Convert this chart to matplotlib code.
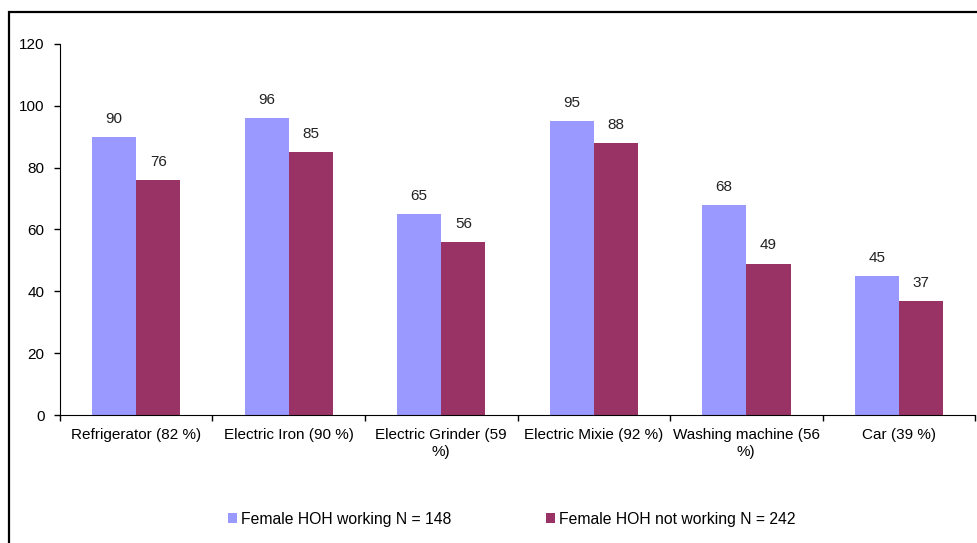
import matplotlib
import matplotlib.pyplot as plt
import numpy as np
from matplotlib.patches import Rectangle

matplotlib.use('Agg')

categories = ['Refrigerator (82 %)', 'Electric Iron (90 %)', 'Electric Grinder (59\n%)',
              'Electric Mixie (92 %)', 'Washing machine (56\n%)', 'Car (39 %)']
working = [90, 96, 65, 95, 68, 45]
not_working = [76, 85, 56, 88, 49, 37]
series_names = ['Female HOH working N = 148', 'Female HOH not working N = 242']

plt.rcParams['font.family'] = ['Liberation Sans', 'DejaVu Sans']
plt.rcParams['font.size'] = 11

fig = plt.figure(figsize=(9.77, 5.43), dpi=100)
ax = fig.add_axes([0.0614, 0.2357, 0.9366, 0.6833])

x = np.arange(len(categories))
width = 0.29

b1 = ax.bar(x - width / 2, working, width, color='#9999FF', label=series_names[0])
b2 = ax.bar(x + width / 2, not_working, width, color='#993366', label=series_names[1])

# value labels above each bar
for bars in (b1, b2):
    for rect in bars:
        h = rect.get_height()
        ax.annotate(f'{h:g}', (rect.get_x() + rect.get_width() / 2, h),
                    xytext=(0, 8), textcoords='offset points',
                    ha='center', va='bottom', fontsize=11, color='#222222')

ax.set_xlim(-0.5, len(categories) - 0.5)
ax.set_ylim(0, 120)
ax.set_yticks(range(0, 121, 20))
ax.set_xticks(x, categories)
ax.set_xticks(np.arange(-0.5, len(categories)), minor=True)
ax.tick_params(axis='x', which='major', length=0, pad=9)
ax.tick_params(axis='x', which='minor', length=4, width=1, direction='out')
ax.tick_params(axis='y', length=4, width=1, pad=7)
for lab in ax.get_xticklabels():
    lab.set_linespacing(1.35)

ax.spines['top'].set_visible(False)
ax.spines['right'].set_visible(False)

fig.legend(handles=[b1, b2], loc='center', bbox_to_anchor=(0.524, 0.044), ncol=2,
           frameon=False, handlelength=0.55, handleheight=0.55, handletextpad=0.3,
           columnspacing=6, fontsize=11.3)

# outer frame (only top and left edges visible)
fig.patches.append(Rectangle((0.0095, -0.2), 1.2, 1.2 - 12 / 543,
                             transform=fig.transFigure, fill=False,
                             edgecolor='black', linewidth=1.6))

plt.savefig('out.png', dpi=100)
